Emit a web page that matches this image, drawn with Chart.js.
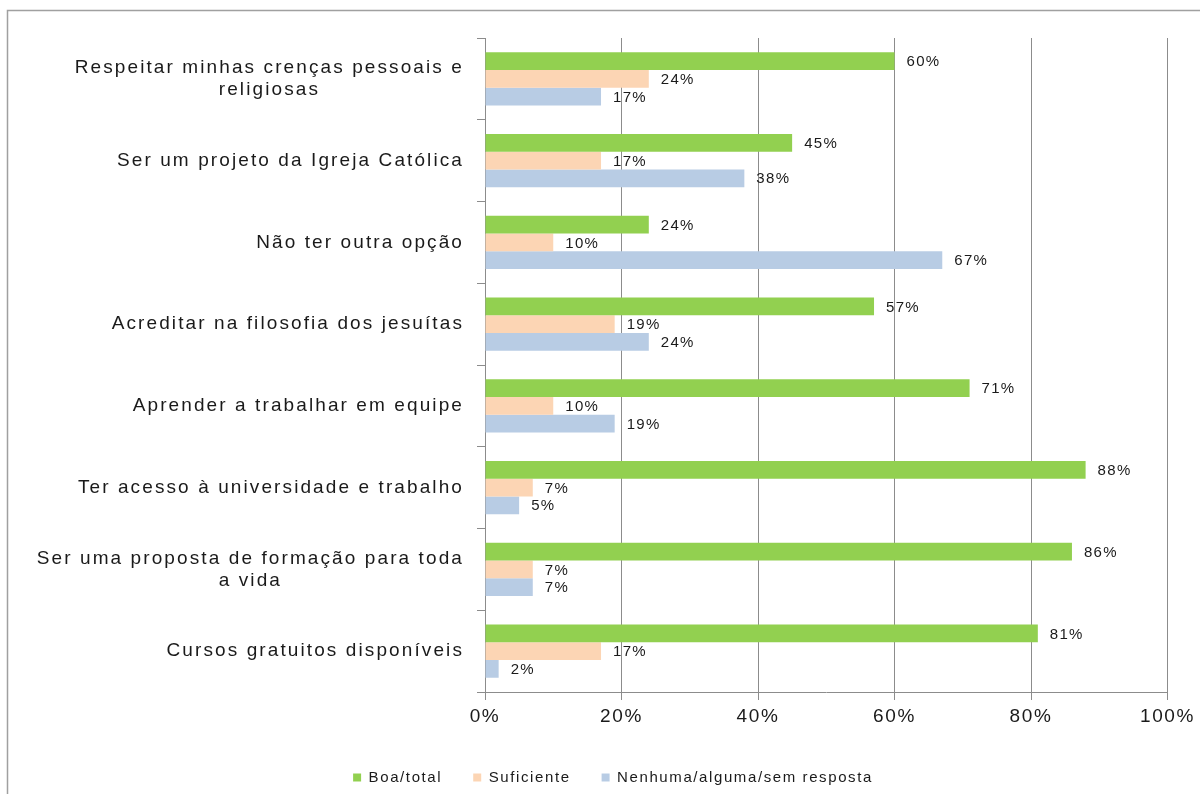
<!DOCTYPE html>
<html>
<head>
<meta charset="utf-8">
<script src="https://cdn.jsdelivr.net/npm/chart.js@4.4.1/dist/chart.umd.min.js"></script>
<style>
html,body{margin:0;padding:0;background:#fff;}
canvas{display:block;}
</style>
</head>
<body>
<canvas id="c" width="1200" height="794"></canvas>
<script>
const categories = [
  ["Respeitar minhas crenças pessoais e", "religiosas"],
  ["Ser um projeto da Igreja Católica"],
  ["Não ter outra opção"],
  ["Acreditar na filosofia dos jesuítas"],
  ["Aprender a trabalhar em equipe"],
  ["Ter acesso à universidade e trabalho"],
  ["Ser uma proposta de formação para toda", "a vida"],
  ["Cursos gratuitos disponíveis"]
];
const seriesNames = ["Boa/total", "Suficiente", "Nenhuma/alguma/sem resposta"];
const boaTotal   = [60, 45, 24, 57, 71, 88, 86, 81];
const suficiente = [24, 17, 10, 19, 10, 7, 7, 17];
const nenhuma    = [17, 38, 67, 24, 19, 5, 7, 2];
const xTicks = [0, 20, 40, 60, 80, 100];

const colors = ["#92D050", "#FCD5B4", "#B8CCE4"];
const FONT = "'Liberation Sans', Arial, sans-serif";

const spacingPlugin = {
  id: 'spacing',
  beforeUpdate(chart) { chart.ctx.letterSpacing = '1.6px'; },
  beforeDraw(chart) {
    const ctx = chart.ctx;
    ctx.letterSpacing = '1.6px';
    ctx.save();
    ctx.strokeStyle = '#a0a0a0';
    ctx.lineWidth = 1.5;
    ctx.beginPath();
    ctx.moveTo(7.5, 800);
    ctx.lineTo(7.5, 10.5);
    ctx.lineTo(1210, 10.5);
    ctx.stroke();
    ctx.restore();
  }
};

const labelPlugin = {
  id: 'labels',
  afterDatasetsDraw(chart) {
    const ctx = chart.ctx;
    ctx.save();
    ctx.font = "15px " + FONT;
    ctx.letterSpacing = '1.3px';
    ctx.fillStyle = '#1a1a1a';
    ctx.textAlign = 'left';
    ctx.textBaseline = 'middle';
    chart.data.datasets.forEach((ds, di) => {
      const meta = chart.getDatasetMeta(di);
      meta.data.forEach((bar, i) => {
        ctx.fillText(ds.data[i] + '%', bar.x + 12, bar.y + 1);
      });
    });
    // y category labels
    const y = chart.scales.y;
    ctx.font = "19px " + FONT;
    ctx.letterSpacing = '2.1px';
    ctx.fillStyle = '#1a1a1a';
    ctx.textAlign = 'center';
    const rightEdge = y.right - 21;
    categories.forEach((lines, i) => {
      const cy = y.getPixelForTick(i);
      let w = 0;
      lines.forEach(l => { w = Math.max(w, ctx.measureText(l).width); });
      const cx = rightEdge - w / 2;
      const lh = 22;
      const startY = cy - (lines.length - 1) * lh / 2;
      lines.forEach((l, k) => ctx.fillText(l, cx, startY + k * lh));
    });
    ctx.restore();
  }
};

new Chart(document.getElementById('c'), {
  type: 'bar',
  data: {
    labels: categories,
    datasets: [
      { label: seriesNames[0], data: boaTotal, backgroundColor: colors[0] },
      { label: seriesNames[1], data: suficiente, backgroundColor: colors[1] },
      { label: seriesNames[2], data: nenhuma, backgroundColor: colors[2] }
    ]
  },
  options: {
    indexAxis: 'y',
    responsive: false,
    animation: false,
    devicePixelRatio: 1,
    layout: { padding: { left: 58, right: 32, top: 38, bottom: 7 } },
    datasets: { bar: { categoryPercentage: 0.65, barPercentage: 1.0 } },
    scales: {
      x: {
        min: 0, max: 100,
        afterBuildTicks(scale) { scale.ticks = xTicks.map(v => ({ value: v })); },
        afterFit(scale) { scale.height = 47; },
        ticks: {
          callback: v => v + '%',
          font: { size: 19, family: FONT },
          color: '#1a1a1a',
          padding: 5,
          maxRotation: 0
        },
        grid: { color: '#8c8c8c', lineWidth: 1, drawTicks: true, tickLength: 8 },
        border: { color: '#8c8c8c', width: 1 }
      },
      y: {
        afterFit(scale) { scale.width = 427; },
        ticks: { display: false },
        grid: { drawOnChartArea: false, drawTicks: true, tickLength: 8, color: '#8c8c8c', offset: true },
        border: { color: '#8c8c8c', width: 1 }
      }
    },
    plugins: {
      legend: {
        position: 'bottom',
        maxHeight: 48,
        labels: {
          boxWidth: 8, boxHeight: 8, padding: 31,
          font: { size: 15, family: FONT },
          color: '#1a1a1a'
        }
      },
      tooltip: { enabled: false }
    }
  },
  plugins: [spacingPlugin, labelPlugin]
});
</script>
</body>
</html>
